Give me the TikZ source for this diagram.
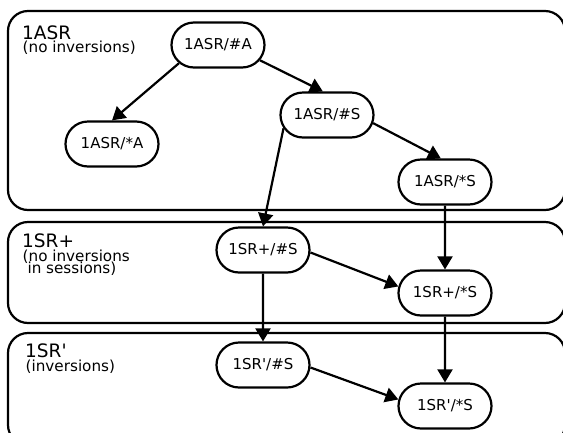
\documentclass[tikz,border=0pt]{standalone}
\usepackage{fontspec}
\setmainfont{DejaVu Sans}[Ligatures=TeXOff]
\usetikzlibrary{shapes.misc,arrows.meta}

\begin{document}
\begin{tikzpicture}[x=1pt,y=-1pt,
    state/.style={rounded rectangle,draw,line width=2.2pt,minimum width=97pt,minimum height=45pt,
      inner sep=2pt,font=\fontsize{15}{17}\selectfont},
    arr/.style={line width=2.2pt,-{Triangle[length=13pt,width=15pt]}},
    level/.style={rounded corners=20pt,line width=2.2pt},
    title/.style={anchor=base west,inner sep=0pt,font=\fontsize{18.5}{20}\selectfont},
    note/.style={anchor=base west,inner sep=0pt,font=\fontsize{15.2}{17}\selectfont}]
    \useasboundingbox (0,0) rectangle (563,432);

    \draw[level] (8,11) rectangle (565,210);
    \draw[level] (8,222) rectangle (565,323);
    \draw[level] (8,333) rectangle (565,445);

    \node[title] (asr) at (22,39) {1ASR};
    \node[note] (asrnote) at (22.5,52) {(no inversions)};
    \node[title] (plus) at (22,247.5) {1SR+};
    \node[note] (plusnote) at (22.5,261) {(no inversions};
    \node[note] (plusnotetwo) at (22.5,273) {\ in sessions)};
    \node[title] (prime) at (25,357) {1SR'};
    \node[note] (primenote) at (25.5,371) {(inversions)};

    \node[state] (hashA) at (218,45) {1ASR/\#A};
    \node[state] (starA) at (112,144) {1ASR/*A};
    \node[state] (hashS) at (327,115) {1ASR/\#S};
    \node[state] (starS) at (445,182) {1ASR/*S};
    \node[state] (plushash) at (263,250) {1SR+/\#S};
    \node[state] (plusstar) at (445,293) {1SR+/*S};
    \node[state] (primehash) at (263,365) {1SR'/\#S};
    \node[state] (primestar) at (445,406) {1SR'/*S};

    \draw[arr] (hashA.205) -- (starA.north);
    \draw[arr] (hashA.340) -- (hashS.100);
    \draw[arr] (hashS.350) -- (starS.100);
    \draw[arr] (hashS.197) -- (plushash.north);
    \draw[arr] (starS) -- (plusstar);
    \draw[arr] (plushash.357) -- (plusstar.172);
    \draw[arr] (plushash) -- (primehash);
    \draw[arr] (plusstar) -- (primestar);
    \draw[arr] (primehash.357) -- (primestar.172);
\end{tikzpicture}
\end{document}
